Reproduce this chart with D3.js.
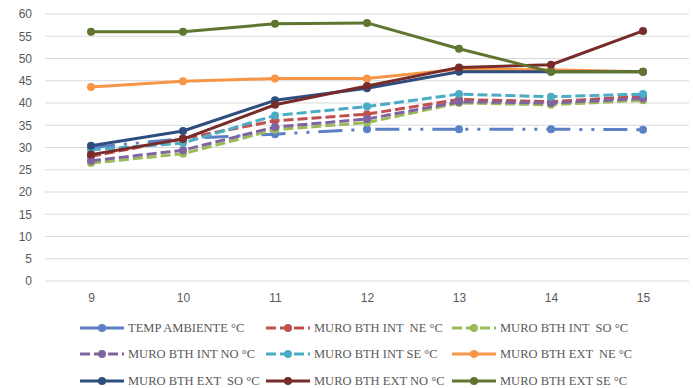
<!DOCTYPE html>
<html><head><meta charset="utf-8">
<script src="https://cdn.jsdelivr.net/npm/d3@7"></script>
<style>body{margin:0;background:#fff}svg{display:block}</style>
</head><body>
<svg id="c" width="693" height="388"></svg>
<script>
const categories = ["9","10","11","12","13","14","15"];
const yTicks = [0,5,10,15,20,25,30,35,40,45,50,55,60];
const seriesNames = ["TEMP AMBIENTE °C","MURO BTH INT  NE °C","MURO BTH INT  SO °C","MURO BTH INT NO °C","MURO BTH INT SE °C","MURO BTH EXT  NE °C","MURO BTH EXT  SO °C","MURO BTH EXT NO °C","MURO BTH EXT SE °C"];
const tempAmbiente = [30.0, 32.0, 33.0, 34.1, 34.1, 34.1, 34.0];
const intNE = [28.0, 32.0, 36.0, 37.5, 40.8, 40.3, 41.5];
const intSO = [26.5, 28.6, 34.0, 35.6, 40.0, 39.6, 40.6];
const intNO = [27.0, 29.4, 34.6, 36.4, 40.3, 40.0, 41.0];
const intSE = [29.5, 31.0, 37.2, 39.2, 42.0, 41.4, 42.0];
const extNE = [43.6, 44.9, 45.5, 45.5, 47.6, 47.5, 47.0];
const extSO = [30.4, 33.7, 40.6, 43.3, 47.0, 47.0, 47.0];
const extNO = [28.4, 31.9, 39.6, 43.8, 48.0, 48.6, 56.2];
const extSE = [56.0, 56.0, 57.8, 58.0, 52.2, 47.0, 47.0];
const colors = ["#5B80C6","#C0504D","#9BBB59","#8064A2","#4BACC6","#F79646","#2E4F7D","#772C2A","#5F7530"];
const dashes = ["24,9,3,9,3,9","10,4","10,4","10,4","10,4",null,null,null,null];

const values = [tempAmbiente,intNE,intSO,intNO,intSE,extNE,extSO,extNO,extSE];
const series = seriesNames.map((n,i)=>({name:n,values:values[i],color:colors[i],dash:dashes[i]}));

const svg = d3.select("#c");
const x = d3.scalePoint().domain(categories).range([45,689]).padding(0.5);
const y = d3.scaleLinear().domain([0,60]).range([281,14]);

// gridlines
svg.append("g").selectAll("line").data(yTicks).join("line")
  .attr("x1",45).attr("x2",689).attr("y1",d=>y(d)).attr("y2",d=>y(d))
  .attr("stroke","#D9D9D9").attr("stroke-width",1);

// y axis labels
const yAxis = d3.axisLeft(y).tickValues(yTicks).tickSize(0).tickPadding(13);
const gy = svg.append("g").attr("transform","translate(45,0)").call(yAxis);
gy.select(".domain").remove();
gy.selectAll("text").attr("font-family","Liberation Sans, Arial, sans-serif").attr("font-size",12).attr("fill","#595959");

// x axis labels
const xAxis = d3.axisBottom(x).tickSize(0).tickPadding(12);
const gx = svg.append("g").attr("transform","translate(0,281)").call(xAxis);
gx.select(".domain").remove();
gx.selectAll("text").attr("font-family","Liberation Sans, Arial, sans-serif").attr("font-size",12).attr("fill","#595959");

const line = d3.line().x((d,i)=>x(categories[i])).y(d=>y(d));
series.forEach(s=>{
  const g = svg.append("g");
  g.append("path").attr("d",line(s.values)).attr("fill","none")
    .attr("stroke",s.color).attr("stroke-width",3)
    .attr("stroke-dasharray",s.dash).attr("stroke-linejoin","round");
  g.selectAll("circle").data(s.values).join("circle")
    .attr("cx",(d,i)=>x(categories[i])).attr("cy",d=>y(d)).attr("r",4)
    .attr("fill",s.color);
});

// legend
const colX = [80,266,452];
const rowY = [328,354,381];
series.forEach((s,i)=>{
  const cx = colX[i%3], cy = rowY[Math.floor(i/3)];
  const g = svg.append("g").attr("transform",`translate(${cx},${cy})`);
  g.append("line").attr("x1",0).attr("x2",44).attr("y1",0).attr("y2",0)
    .attr("stroke",s.color).attr("stroke-width",3)
    .attr("stroke-dasharray",s.dash ? (i===0?null:"10,4") : null);
  g.append("circle").attr("cx",22).attr("cy",0).attr("r",4).attr("fill",s.color);
  g.append("text").attr("x",48).attr("y",0).attr("dy","0.35em")
    .attr("font-family","Liberation Serif, Times New Roman, serif").attr("font-size",12.5)
    .attr("fill","#595959").attr("xml:space","preserve").style("white-space","pre").text(s.name);
});
</script>
</body></html>
